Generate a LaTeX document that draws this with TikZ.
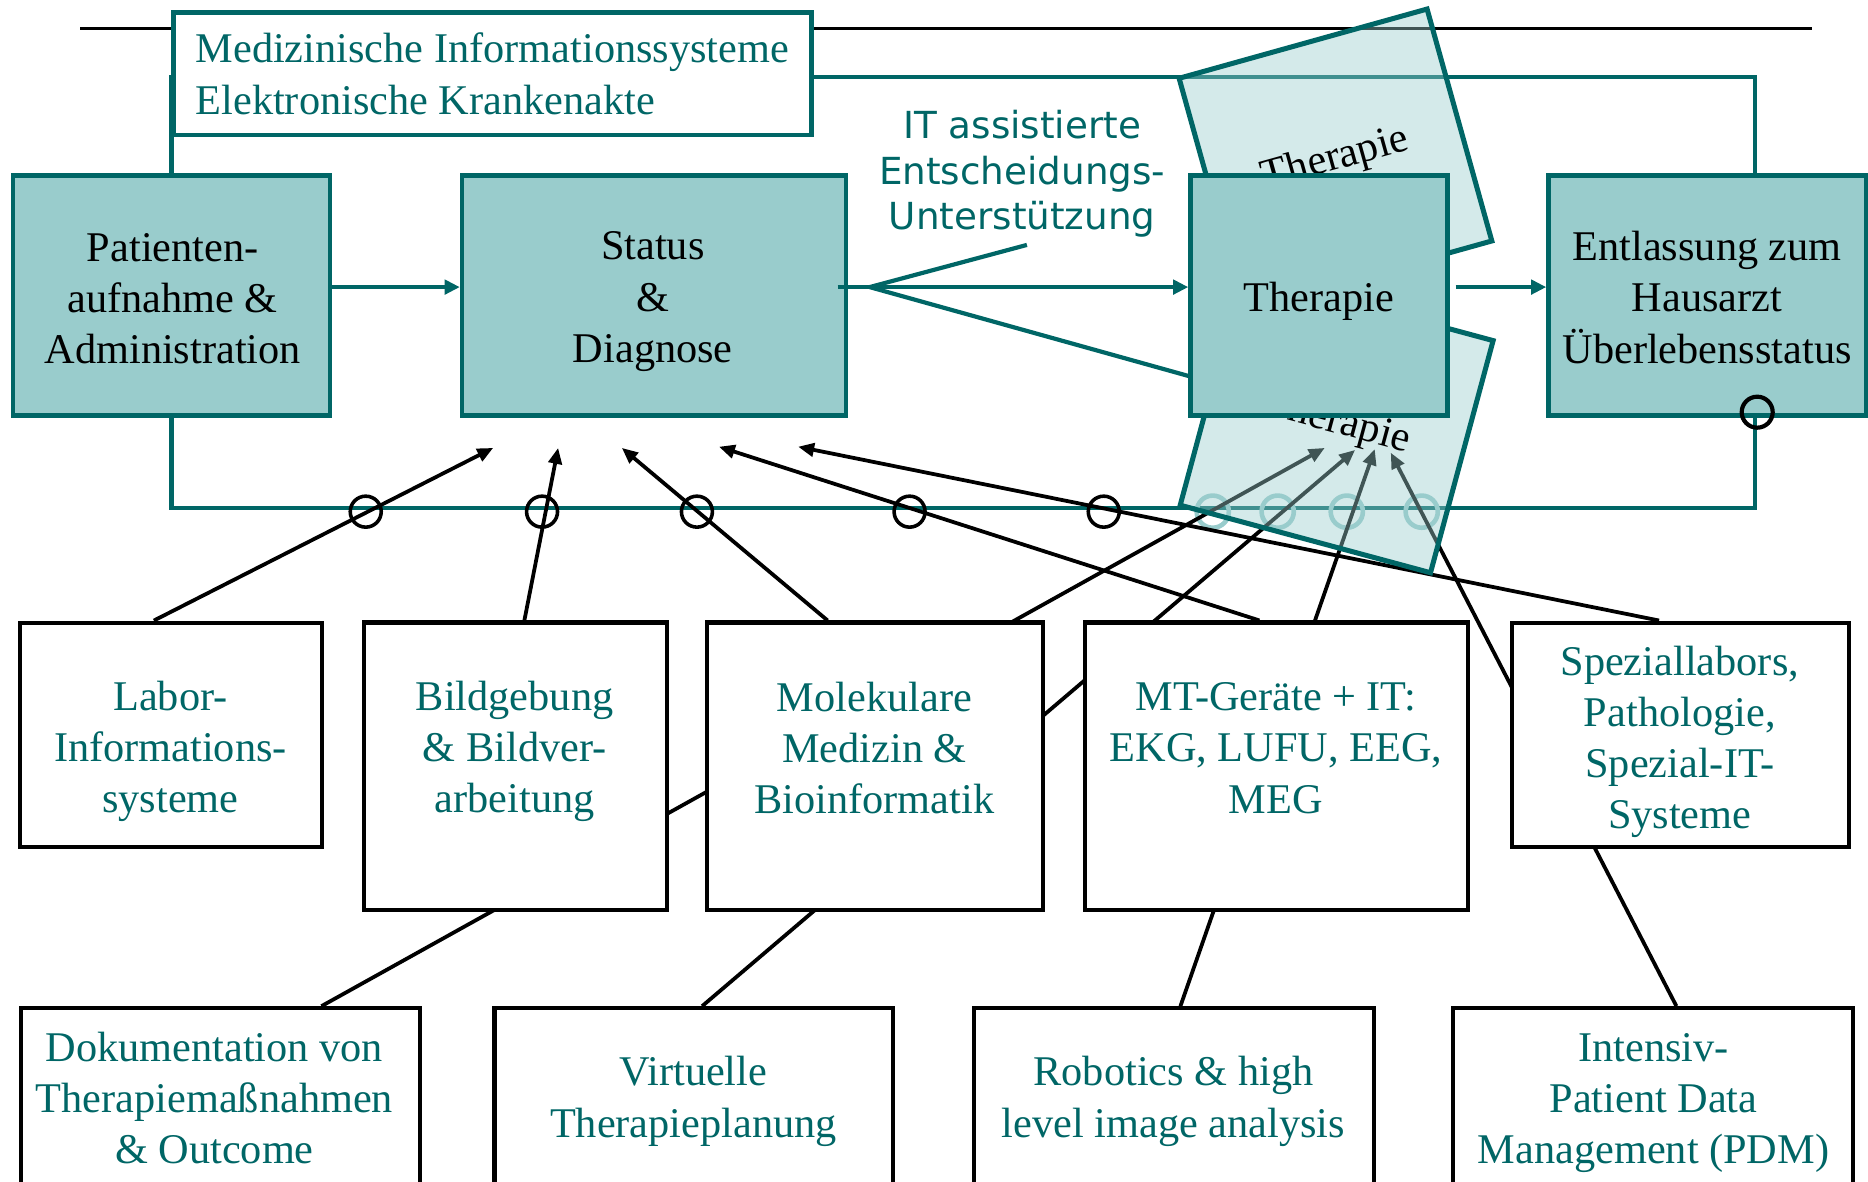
\documentclass[tikz,border=0pt]{standalone}
\usepackage{fontspec}
\setmainfont{Liberation Serif}
\newfontfamily\itsans{DejaVu Sans}
\usetikzlibrary{arrows.meta,calc}
\definecolor{tealc}{RGB}{0,102,102}
\definecolor{tealf}{RGB}{153,204,204}
\newcommand{\fsz}{\fontsize{10.1}{12.2}\selectfont}
\pgfdeclarelayer{back}
\pgfsetlayers{back,main}
\begin{document}
\begin{tikzpicture}[x=0.01cm,y=-0.01cm,
  tbox/.style={draw=tealc,fill=tealf,line width=1.1pt,inner sep=0pt},
  ttxt/.style={font=\fsz,align=center,inner sep=0pt},
  titlebox/.style={draw=tealc,fill=white,line width=1.1pt,inner sep=0pt,font=\fsz,align=left,text=tealc},
  wbox/.style={draw=black,fill=white,line width=1pt,inner sep=0pt},
  btxt/.style={text=tealc,font=\fsz,align=center,inner sep=0pt},
  tline/.style={draw=tealc,line width=1pt},
  tarr/.style={tline,-{Triangle[length=3.6pt,width=3.4pt]}},
  bline/.style={draw=black,line width=0.9pt},
  barr/.style={bline,-{Triangle[length=3.8pt,width=3.2pt]}},
  ring/.style={circle,draw=black,line width=0.85pt,minimum size=0.26cm,inner sep=0pt},
  pring/.style={circle,draw=tealf,line width=1.1pt,minimum size=0.27cm,inner sep=0pt},
  rotbox/.style={draw=tealc,line width=1.2pt,fill=tealf,fill opacity=0.42,text opacity=1,
     minimum width=2.16cm,minimum height=2.02cm,inner sep=0pt,font=\fsz}
]
\useasboundingbox (0,0) rectangle (1568,992);

% ---------- bottom boxes ----------
\node[wbox,minimum width=2.537cm,minimum height=1.883cm] (lab)  at (143.6,616.9) {};
\node[wbox,minimum width=2.546cm,minimum height=2.413cm] (bild) at (432.7,643.3) {};
\node[wbox,minimum width=2.82cm, minimum height=2.413cm] (mol)  at (734.5,643.3) {};
\node[wbox,minimum width=3.212cm,minimum height=2.413cm] (mt)   at (1071.4,643.3) {};
\node[wbox,minimum width=2.827cm,minimum height=1.88cm]  (spez) at (1410.3,616.7) {};
\node[wbox,minimum width=3.347cm,minimum height=1.636cm] (doku) at (185,928.2) {};
\node[wbox,minimum width=3.346cm,minimum height=1.636cm] (virt) at (582.5,928.2) {};
\node[wbox,minimum width=3.356cm,minimum height=1.636cm] (robo) at (985.2,928.2) {};
\node[wbox,minimum width=3.355cm,minimum height=1.636cm] (inte) at (1387.8,928.2) {};

\node[btxt] (labt)  at (143,631) {Labor-\\Informations-\\systeme};
\node[btxt] (bildt) at (432,631) {Bildgebung\\\& Bildver-\\arbeitung};
\node[btxt] (molt)  at (734,628) {Molekulare\\Medizin \&\\Bioinformatik};
\node[btxt] (mtt)   at (1071,628) {MT-Geräte + IT:\\EKG, LUFU, EEG,\\MEG};
\node[btxt] (spezt) at (1410,622.5) {Speziallabors,\\Pathologie,\\Spezial-IT-\\Systeme};
\node[btxt] (dokut) at (180,922) {Dokumentation von\\Therapiemaßnahmen\\\& Outcome};
\node[btxt] (virtt) at (582,924.5) {Virtuelle\\Therapieplanung};
\node[btxt] (robot) at (985,924.5) {Robotics \& high\\level image analysis};
\node[btxt] (intet) at (1388,926) {Intensiv-\\Patient Data\\Management (PDM)};

% ---------- rotated therapy sheets ----------
\node[rotbox,rotate=15.6] (rup) at (1121,134) {Therapie};
\node[rotbox,rotate=-15.1,minimum width=2.175cm,minimum height=2.017cm] (rlo) at (1122,355) {Therapie};

% ---------- title box ----------
\node[titlebox,minimum width=5.354cm,minimum height=1.027cm] (title) at (413.3,62)
  {Medizinische Informationssysteme\\Elektronische Krankenakte};

% ---------- main process boxes ----------
\node[tbox,minimum width=2.66cm, minimum height=2.015cm] (pat)  at (144,248.2) {};
\node[tbox,minimum width=3.22cm, minimum height=2.015cm] (stat) at (549,248.2) {};
\node[tbox,minimum width=2.155cm,minimum height=2.01cm]  (ther) at (1107.2,248) {};
\node[tbox,minimum width=2.665cm,minimum height=2.01cm]  (entl) at (1433.2,248) {};
\node[ttxt] (patt)  at (145,251) {Patienten-\\aufnahme \&\\Administration};
\node[ttxt] (statt) at (548,253.2) {Status\\\&\\Diagnose};
\node[ttxt] (thert) at (1107,253) {Therapie};
\node[ttxt] (entlt) at (1433,249.7) {Entlassung zum\\Hausarzt\\Überlebensstatus};

% ---------- teal arrows between process boxes ----------
\coordinate (br)  at (730,241);
\coordinate (itp) at (862,205.6);
\coordinate (thl) at (999,316);
\draw[tarr] (pat.east |- br) -- (stat.west |- br);
\draw[tline] ($(stat.east |- br)+(-9,0)$) -- (br);
\draw[tarr] (br) -- (ther.west |- br);
\draw[tline] (br) -- (itp);
\draw[tline] (br) -- (thl);
\draw[tarr] ($(ther.east |- br)+(5,0)$) -- (entl.west |- br);

\node[font=\itsans\fontsize{8.9}{10.8}\selectfont,text=tealc,align=center,inner sep=0pt] (itt) at (858,146)
  {IT assistierte\\Entscheidungs-\\Unterstützung};

\node[ring,line width=1pt] (ec) at (1475,346) {};

% ---------- background layer: lines ----------
\begin{pgfonlayer}{back}
\coordinate (hl1) at (67.3,23.8);
\coordinate (hl2) at (1521,23.8);
\draw[black,line width=0.6pt] (hl1) -- (hl2);

\coordinate (tl1) at (143,64.4);
\coordinate (tl2) at (1473,64.4);
\draw[tline] (pat.north) -- (pat.north |- tl1) -- (tl2) -- (tl2 |- entl.north);
\coordinate (bl1) at (143,426.7);
\coordinate (bl2) at (1473,426.7);
\draw[tline] (pat.south) -- (pat.south |- bl1) -- (bl2) -- (bl2 |- entl.south);

\node[ring] (c1) at (307,429.5) {};
\node[ring] (c2) at (455,429.5) {};
\node[ring] (c3) at (585,429.5) {};
\node[ring] (c4) at (763.5,429.5) {};
\node[ring] (c5) at (926.5,429.5) {};
\node[pring] (p1) at (1018,429.5) {};
\node[pring] (p2) at (1072.5,429.5) {};
\node[pring] (p3) at (1130.5,429.5) {};
\node[pring] (p4) at (1193.4,429.5) {};

\coordinate (t1) at (414,376);
\coordinate (t2) at (468.5,376);
\coordinate (t3) at (522,376);
\coordinate (t4) at (603.5,375);
\coordinate (t5) at (670,375);
\coordinate (t6) at (1112,376);
\coordinate (t7) at (1137.5,377.7);
\coordinate (t8) at (1154,377);
\coordinate (t9) at (1167.4,380);

\draw[barr] ($(lab.north west)+(114.2,0)$) -- (t1);
\draw[barr] ($(bild.north west)+(136.6,0)$) -- (t2);
\draw[barr] ($(mol.north west)+(103,0)$) -- (t3);
\draw[barr] ($(mt.north west)+(148.2,0)$) -- (t4);
\draw[barr] ($(spez.north west)+(125.5,0)$) -- (t5);
\draw[barr] ($(doku.north west)+(254,0)$) -- (t6);
\draw[barr] ($(virt.north west)+(176,0)$) -- (t7);
\draw[barr] ($(robo.north west)+(175.3,0)$) -- (t8);
\draw[barr] ($(inte.north west)+(189,0)$) -- (t9);
\end{pgfonlayer}
\end{tikzpicture}
\end{document}
